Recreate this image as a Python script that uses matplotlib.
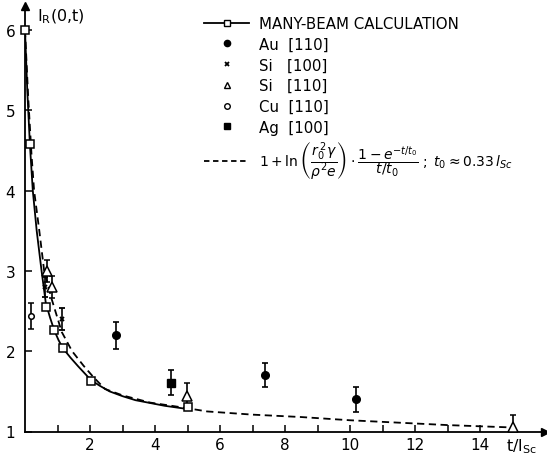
import matplotlib
matplotlib.use("Agg")
import matplotlib.pyplot as plt
from matplotlib.lines import Line2D

# many-beam calculation (squares) and the solid curve through them
mb_t = [0.0, 0.15, 0.64, 0.9, 1.16, 2.03, 5.0]
mb_I = [6.0, 4.58, 2.55, 2.26, 2.04, 1.63, 1.31]
solid_t = [0, 0.07, 0.15, 0.24, 0.36, 0.51, 0.64, 0.77, 0.9, 1.03, 1.16, 1.4,
           1.64, 2.03, 2.3, 2.6, 3.0, 3.4, 3.85, 4.3, 5.0]
solid_I = [6.0, 5.25, 4.58, 4.0, 3.5, 3.0, 2.6, 2.42, 2.26, 2.14, 2.04, 1.92,
           1.81, 1.64, 1.57, 1.50, 1.44, 1.39, 1.355, 1.32, 1.28]

# dashed analytic curve
dash_t = [0, 0.1, 0.2, 0.28, 0.44, 0.59, 0.82, 1.13, 1.45, 1.8, 2.1, 2.46, 3.0,
          3.85, 5.0, 5.6, 7.0, 8.5, 10.0, 11.5, 13.0, 15.0]
dash_I = [6.0, 5.15, 4.45, 4.0, 3.5, 3.0, 2.65, 2.24, 2.0, 1.82, 1.68, 1.53, 1.45,
          1.36, 1.29, 1.25, 1.21, 1.18, 1.14, 1.11, 1.08, 1.05]

# measurements
au110_t = [2.79, 7.39, 10.18]
au110_I = [2.20, 1.70, 1.40]
au110_err = [0.17, 0.15, 0.16]

si100_t = [0.6, 1.13]
si100_I = [2.80, 2.40]
si100_err = [0.12, 0.14]

si110_t = [0.67, 0.82, 4.97, 15.0]
si110_I = [3.00, 2.80, 1.44, 1.05]
si110_err = [0.14, 0.14, 0.16, 0.15]

cu110_t = [0.17]
cu110_I = [2.44]
cu110_err = [0.16]

ag100_t = [4.49]
ag100_I = [1.61]
ag100_err = [0.15]

plt.rcParams['font.family'] = ['DejaVu Sans']
plt.rcParams['mathtext.fontset'] = 'dejavusans'

fig = plt.figure(figsize=(5.47, 4.56), dpi=100)
ax = fig.add_axes([25 / 547, 23.5 / 456, 520 / 547, 425.5 / 456])

ax.plot(solid_t, solid_I, color='black', lw=1.3, zorder=2)
ax.plot(dash_t, dash_I, color='black', lw=1.3, ls=(0, (4, 2.5)), zorder=2)
ax.plot(mb_t, mb_I, 's', ms=5.5, mfc='white', mec='black', mew=1.1, zorder=4, clip_on=False)

eb = dict(ecolor='black', elinewidth=1.2, capsize=2.5, capthick=1.2, ls='none', zorder=3)
ax.errorbar(au110_t, au110_I, yerr=au110_err, fmt='o', ms=5.5, mfc='black', mec='black', **eb)
ax.errorbar(si100_t, si100_I, yerr=si100_err, fmt='x', ms=3.5, mec='black', mew=1.3, **eb)
ax.errorbar(si110_t, si110_I, yerr=si110_err, fmt='^', ms=6.5, mfc='white', mec='black', mew=1.1, **eb)
ax.errorbar(cu110_t, cu110_I, yerr=cu110_err, fmt='o', ms=4, mfc='white', mec='black', mew=1.1, **eb)
ax.errorbar(ag100_t, ag100_I, yerr=ag100_err, fmt='s', ms=6, mfc='black', mec='black', **eb)

ax.set_xlim(0, 16)
ax.set_ylim(1, 6.3)
for s in ['top', 'right']:
    ax.spines[s].set_visible(False)
for s in ['left', 'bottom']:
    ax.spines[s].set_linewidth(1.3)

ax.set_xticks([2, 4, 6, 8, 10, 12, 14])
ax.set_xticks([1, 3, 5, 7, 9, 11, 13, 15], minor=True)
ax.set_yticks([1, 2, 3, 4, 5, 6])
ax.tick_params(axis='both', which='both', direction='in', length=5, width=1.1,
               labelsize=11, pad=4)
ax.tick_params(axis='y', pad=7)

# axis arrows
ax.plot(1, 0, '>', color='black', ms=6, transform=ax.transAxes, clip_on=False)
ax.plot(0, 1, '^', color='black', ms=6, transform=ax.transAxes, clip_on=False)

fig.text(37 / 547, 1 - 17 / 456, 'I$_{\\rm R}$(0,t)', fontsize=11.5, va='center', ha='left')
fig.text(506 / 547, 1 - 447 / 456, 't/l$_{\\rm Sc}$', fontsize=11.5, va='center', ha='left')

handles = [
    Line2D([], [], color='black', lw=1.3, marker='s', ms=5, mfc='white', mec='black'),
    Line2D([], [], ls='none', marker='o', ms=4.5, color='black'),
    Line2D([], [], ls='none', marker='x', ms=3.5, mew=1.3, color='black'),
    Line2D([], [], ls='none', marker='^', ms=5, mfc='white', mec='black'),
    Line2D([], [], ls='none', marker='o', ms=4, mfc='white', mec='black'),
    Line2D([], [], ls='none', marker='s', ms=5, color='black'),
    Line2D([], [], color='black', lw=1.3, ls=(0, (3, 2))),
]
labels = [
    'MANY-BEAM CALCULATION',
    'Au  [110]',
    'Si   [100]',
    'Si   [110]',
    'Cu  [110]',
    'Ag  [100]',
    r'$1+\ln\left(\dfrac{r_0^{\,2}\gamma}{\rho^2 e}\right)\cdot\dfrac{1-e^{-t/t_0}}{t/t_0}\;;\;t_0\approx0.33\,l_{Sc}$',
]
leg = ax.legend(handles, labels, loc='upper left', frameon=False, fontsize=10.8,
                bbox_to_anchor=(204 / 547, 1 - 17 / 456), bbox_transform=fig.transFigure,
                handlelength=3.0, handletextpad=0.65, labelspacing=0.38, borderpad=0,
                borderaxespad=0, numpoints=1)
leg.get_texts()[-1].set_fontsize(10)

fig.savefig('out.png', dpi=100)
